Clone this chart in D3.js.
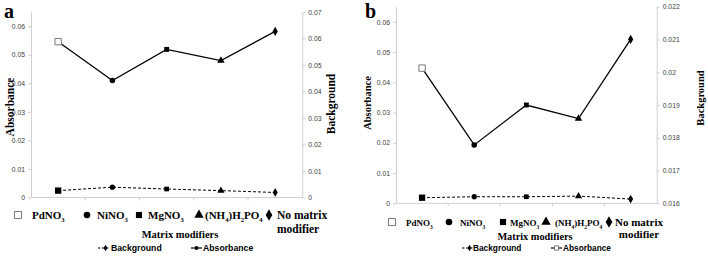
<!DOCTYPE html>
<html><head><meta charset="utf-8">
<script src="https://cdn.jsdelivr.net/npm/d3@7"></script>
<style>body{margin:0;background:#fff}</style></head>
<body><svg id="c" width="708" height="257"></svg>
<script>
// ---- data ----
const categories = ["PdNO3", "NiNO3", "MgNO3", "(NH4)H2PO4", "No matrix modifier"];
const absorbanceA = [0.0546, 0.0410, 0.0519, 0.0480, 0.0582];
const backgroundA = [0.0026, 0.0039, 0.0032, 0.0026, 0.0019];
const absorbanceB = [0.0447, 0.0193, 0.0325, 0.0280, 0.0542];
const backgroundB = [0.01617, 0.01620, 0.01620, 0.01622, 0.01613];
const leftTicks = [0, 0.01, 0.02, 0.03, 0.04, 0.05, 0.06];
const rightTicksA = [0, 0.01, 0.02, 0.03, 0.04, 0.05, 0.06, 0.07];
const rightTicksB = [0.016, 0.017, 0.018, 0.019, 0.02, 0.021, 0.022];
const absMarkers = ["squareOpen", "circle", "square", "triangle", "diamond"];
const bgMarkers = ["square", "circle", "square", "triangle", "diamond"];

const svg = d3.select("#c");
const serif = "'Liberation Serif','Times New Roman',serif";
const sans = "'Liberation Sans',Arial,sans-serif";
const fmt = d => d === 0 ? "0" : String(+d.toFixed(3));

function formula(sel, str, size) {
  // digits following letters or ')' are drawn as subscripts
  const parts = str.match(/[A-Za-z()\s]+|\d+/g);
  const shift = size * 0.3;
  let low = false;
  parts.forEach(p => {
    const sub = /^\d+$/.test(p);
    const t = sel.append("tspan").attr("font-size", sub ? size * 0.6 : size).text(p);
    if (sub && !low) { t.attr("dy", shift); low = true; }
    else if (!sub && low) { t.attr("dy", -shift); low = false; }
  });
}

function symbolPath(kind, size) {
  const map = {squareOpen: d3.symbolSquare, square: d3.symbolSquare, circle: d3.symbolCircle,
               triangle: d3.symbolTriangle, diamond: d3.symbolDiamond};
  return d3.symbol().type(map[kind]).size(size)();
}
function drawMarker(g, kind, x, y, size) {
  g.append("path").attr("d", symbolPath(kind, size))
    .attr("transform", `translate(${x},${y})`)
    .attr("fill", kind === "squareOpen" ? "#fff" : "#000")
    .attr("stroke", kind === "squareOpen" ? "#777" : "none")
    .attr("stroke-width", 1);
}

const panels = [
  {label: "a", lx: 4, ly: 18, x0: 31, x1: 302.3, top: 12, bottom: 197.5,
   abs: absorbanceA, bg: backgroundA, leftDomain: [0, 0.065], rightDomain: [0, 0.07], rightTicks: rightTicksA,
   ytitleL: 14, ytitleR: 335, titleYL: 107, titleYR: 104, tfs: 11.5, fs: 11, lfs: 11.5, xfs: 10.5,
   legend: [18, 87, 139, 199, 269], legendText: [32, 97, 148, 205, 277], legendY: 219, lineGap: 14,
   modAnchor: "start", xTitle: [180, 238], serLeg: {bg: 98, bgText: 111, abs: 191, absText: 203, y: 251, fs: 8.7},
   absLegMarker: "circle"},
  {label: "b", lx: 365, ly: 18, x0: 396, x1: 656.7, top: 6.7, bottom: 203.3,
   abs: absorbanceB, bg: backgroundB, leftDomain: [0, 0.065], rightDomain: [0.016, 0.022], rightTicks: rightTicksB,
   ytitleL: 371, ytitleR: 704, titleYL: 103, titleYR: 98, tfs: 10.5, fs: 9, lfs: 11, xfs: 10.3,
   legend: [392, 449, 503, 546, 609], legendText: [406, 460, 510, 555, 615], legendY: 226, lineGap: 12,
   modAnchor: "middle", xTitle: [535, 239.5], serLeg: {bg: 462, bgText: 473, abs: 551, absText: 563, y: 251, fs: 8.3},
   absLegMarker: "squareOpen"}
];

panels.forEach(p => {
  const g = svg.append("g");
  const x = d3.scaleBand().domain(categories).range([p.x0, p.x1]).paddingInner(0).paddingOuter(0);
  const yL = d3.scaleLinear().domain(p.leftDomain).range([p.bottom, p.top]);
  const yR = d3.scaleLinear().domain(p.rightDomain).range([p.bottom, p.top]);

  // axes
  const axL = g.append("g").attr("transform", `translate(${p.x0},0)`)
    .call(d3.axisLeft(yL).tickValues(leftTicks).tickFormat(fmt).tickSize(3).tickSizeOuter(0));
  const axR = g.append("g").attr("transform", `translate(${p.x1},0)`)
    .call(d3.axisRight(yR).tickValues(p.rightTicks).tickFormat(fmt).tickSize(3).tickSizeOuter(0));
  [axL, axR].forEach(a => {
    a.selectAll("path,line").attr("stroke", "#d0d0d0");
    a.selectAll("text").attr("font-family", sans).attr("font-size", 6.8).attr("fill", "#404040");
  });
  // x axis line and boundary ticks
  g.append("line").attr("x1", p.x0).attr("x2", p.x1).attr("y1", p.bottom).attr("y2", p.bottom).attr("stroke", "#d0d0d0");
  categories.slice(1).forEach(c => {
    g.append("line").attr("x1", x(c)).attr("x2", x(c)).attr("y1", p.bottom).attr("y2", p.bottom + 3).attr("stroke", "#d0d0d0");
  });

  const cx = c => x(c) + x.bandwidth() / 2;
  // background dashed line (right axis)
  g.append("path").datum(p.bg)
    .attr("d", d3.line().x((d, i) => cx(categories[i])).y(d => yR(d)))
    .attr("fill", "none").attr("stroke", "#000").attr("stroke-width", 1).attr("stroke-dasharray", "3,2");
  // absorbance solid line (left axis)
  g.append("path").datum(p.abs)
    .attr("d", d3.line().x((d, i) => cx(categories[i])).y(d => yL(d)))
    .attr("fill", "none").attr("stroke", "#000").attr("stroke-width", 1.3);
  p.bg.forEach((d, i) => drawMarker(g, bgMarkers[i], cx(categories[i]), yR(d), i === 0 ? 40 : 22));
  p.abs.forEach((d, i) => drawMarker(g, absMarkers[i], cx(categories[i]), yL(d), i === 0 ? 40 : 24));

  // panel label
  g.append("text").attr("x", p.lx).attr("y", p.ly).attr("font-family", serif).attr("font-weight", "bold")
    .attr("font-size", 20).text(p.label);
  // y titles
  g.append("text").attr("transform", `translate(${p.ytitleL},${p.titleYL}) rotate(-90)`)
    .attr("text-anchor", "middle").attr("font-family", serif).attr("font-weight", "bold").attr("font-size", p.tfs).text("Absorbance");
  g.append("text").attr("transform", `translate(${p.ytitleR},${p.titleYR}) rotate(-90)`)
    .attr("text-anchor", "middle").attr("font-family", serif).attr("font-weight", "bold").attr("font-size", p.tfs).text("Background");

  // category legend
  categories.forEach((c, i) => {
    const k = absMarkers[i];
    drawMarker(g, k, p.legend[i], p.legendY - 4, k === "squareOpen" ? 50 : (k === "circle" ? 34 : 38));
    if (i === 4) {
      const words = c.split(" ");
      const first = words.slice(0, 2).join(" "), second = words.slice(2).join(" ");
      const t = g.append("text").attr("x", p.legendText[i]).attr("y", p.legendY).attr("font-family", serif)
        .attr("font-weight", "bold").attr("font-size", p.lfs).text(first);
      const s = g.append("text").attr("y", p.legendY + p.lineGap).attr("font-family", serif)
        .attr("font-weight", "bold").attr("font-size", p.lfs).text(second);
      if (p.modAnchor === "middle") {
        const w = t.node().getComputedTextLength();
        s.attr("x", p.legendText[i] + w / 2).attr("text-anchor", "middle");
      } else s.attr("x", p.legendText[i]);
    } else {
      const t = g.append("text").attr("x", p.legendText[i]).attr("y", p.legendY).attr("font-family", serif)
        .attr("font-weight", "bold").attr("font-size", p.fs);
      formula(t, c, p.fs);
    }
  });
  // x title
  g.append("text").attr("x", p.xTitle[0]).attr("y", p.xTitle[1]).attr("text-anchor", "middle")
    .attr("font-family", serif).attr("font-weight", "bold").attr("font-size", p.xfs).text("Matrix modifiers");

  // series legend
  const sl = p.serLeg;
  g.append("line").attr("x1", sl.bg).attr("x2", sl.bg + 11).attr("y1", sl.y - 3).attr("y2", sl.y - 3)
    .attr("stroke", "#000").attr("stroke-dasharray", "2.5,1.5");
  drawMarker(g, "diamond", sl.bg + 7.5, sl.y - 3, 12);
  g.append("text").attr("x", sl.bgText).attr("y", sl.y).attr("font-family", sans).attr("font-weight", "bold")
    .attr("font-size", sl.fs).text("Background");
  g.append("line").attr("x1", sl.abs).attr("x2", sl.abs + 11).attr("y1", sl.y - 3).attr("y2", sl.y - 3)
    .attr("stroke", "#000").attr("stroke-width", 1.2);
  drawMarker(g, p.absLegMarker, sl.abs + 5.5, sl.y - 3, p.absLegMarker === "squareOpen" ? 18 : 12);
  g.append("text").attr("x", sl.absText).attr("y", sl.y).attr("font-family", sans).attr("font-weight", "bold")
    .attr("font-size", sl.fs).text("Absorbance");
});
</script>
</body></html>
